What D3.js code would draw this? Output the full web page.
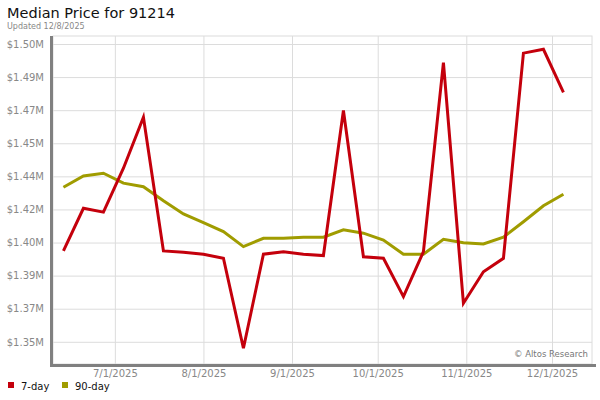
<!DOCTYPE html>
<html><head><meta charset="utf-8">
<script src="https://cdn.jsdelivr.net/npm/d3@7"></script>
<style>body{margin:0;background:#fff}svg{display:block;font-family:"DejaVu Sans",Verdana,sans-serif}</style>
</head><body><svg id="c" width="600" height="400"></svg>
<script>
const title = "Median Price for 91214";
const subtitle = "Updated 12/8/2025";
const dates = ["2025-06-13","2025-06-20","2025-06-27","2025-07-04","2025-07-11","2025-07-18","2025-07-25","2025-08-01","2025-08-08","2025-08-15","2025-08-22","2025-08-29","2025-09-05","2025-09-12","2025-09-19","2025-09-26","2025-10-03","2025-10-10","2025-10-17","2025-10-24","2025-10-31","2025-11-07","2025-11-14","2025-11-21","2025-11-28","2025-12-05"];
const sevenDay = [1398200,1420100,1418100,1440700,1466900,1398200,1397500,1396500,1394400,1348200,1396500,1397700,1396500,1395800,1470300,1395200,1394400,1374700,1397800,1494900,1371300,1387500,1394400,1499800,1501800,1479700];
const ninetyDay = [1430900,1436700,1438100,1433000,1431200,1424000,1417200,1412700,1408100,1400400,1404700,1404700,1405200,1405200,1409000,1407300,1403800,1396500,1396500,1404200,1402400,1401800,1405200,1413200,1421400,1427300];
const yTickValues = [1351500,1368500,1385500,1402500,1419500,1436500,1453500,1470500,1487500,1504500];
const yTickLabels = ["$1.35M","$1.37M","$1.39M","$1.40M","$1.42M","$1.44M","$1.45M","$1.47M","$1.49M","$1.50M"];
const xTickDates = ["2025-07-01","2025-08-01","2025-09-01","2025-10-01","2025-11-01","2025-12-01"];
const xTickLabels = ["7/1/2025","8/1/2025","9/1/2025","10/1/2025","11/1/2025","12/1/2025"];
const seriesNames = ["7-day","90-day"];
const seriesColors = ["#c4000c","#a09c00"];

const parse = d3.utcParse("%Y-%m-%d");
const svg = d3.select("#c");
const L = 53, R = 592, T = 36, B = 364;

const x = d3.scaleUtc().domain([parse("2025-06-09"), parse("2025-12-15")]).range([52, 592]);
const y = d3.scaleLinear().domain([yTickValues[0], yTickValues[9]]).range([341.8, 44]);

svg.append("text").attr("x", 7).attr("y", 18).attr("font-size", 14.5).attr("fill", "#111").text(title);
svg.append("text").attr("x", 7).attr("y", 29).attr("font-size", 8).attr("fill", "#888").text(subtitle);

// plot frame
svg.append("rect").attr("x", L).attr("y", T).attr("width", R - L).attr("height", B - T)
  .attr("fill", "#fff").attr("stroke", "#dcdcdc");

// horizontal grid + y labels
const yAxis = d3.axisLeft(y).tickValues(yTickValues).tickFormat((d, i) => yTickLabels[i]).tickSize(-(R - L)).tickPadding(9);
const gy = svg.append("g").attr("transform", `translate(${L},0)`).call(yAxis);
gy.select(".domain").remove();
gy.selectAll(".tick line").attr("stroke", "#dcdcdc");
gy.selectAll(".tick text").attr("fill", "#888").attr("font-size", 10).attr("font-family", '"DejaVu Sans",Verdana,sans-serif');

// vertical grid + x labels
const xAxis = d3.axisBottom(x).tickValues(xTickDates.map(parse)).tickFormat((d, i) => xTickLabels[i]).tickSize(-(B - T)).tickPadding(6);
const gx = svg.append("g").attr("transform", `translate(0,${B})`).call(xAxis);
gx.select(".domain").remove();
gx.selectAll(".tick line").attr("stroke", "#dcdcdc");
gx.selectAll(".tick text").attr("fill", "#888").attr("font-size", 10).attr("font-family", '"DejaVu Sans",Verdana,sans-serif');

// thick axis bars
svg.append("line").attr("x1", 51.5).attr("x2", 51.5).attr("y1", T).attr("y2", B + 3).attr("stroke", "#808080").attr("stroke-width", 3);
svg.append("line").attr("x1", 50).attr("x2", 596).attr("y1", B + 1.5).attr("y2", B + 1.5).attr("stroke", "#808080").attr("stroke-width", 3);

svg.append("text").attr("x", 588).attr("y", 357).attr("text-anchor", "end").attr("font-size", 8.5).attr("fill", "#777").text("\u00a9 Altos Research");

const line = d3.line().x(d => x(d[0])).y(d => y(d[1]));
[ninetyDay, sevenDay].forEach((vals, i) => {
  const ci = i === 0 ? 1 : 0;
  svg.append("path").datum(dates.map((d, j) => [parse(d), vals[j]]))
    .attr("d", line).attr("fill", "none").attr("stroke", seriesColors[ci])
    .attr("stroke-width", 3).attr("stroke-linejoin", "miter");
});

// legend
const lg = svg.append("g");
const lx = [8, 62];
seriesNames.forEach((n, i) => {
  lg.append("rect").attr("x", lx[i]).attr("y", 382).attr("width", 6).attr("height", 6).attr("fill", seriesColors[i]);
  lg.append("text").attr("x", lx[i] + 13).attr("y", 389.5).attr("font-size", 10).attr("fill", "#111").text(n);
});
</script></body></html>
